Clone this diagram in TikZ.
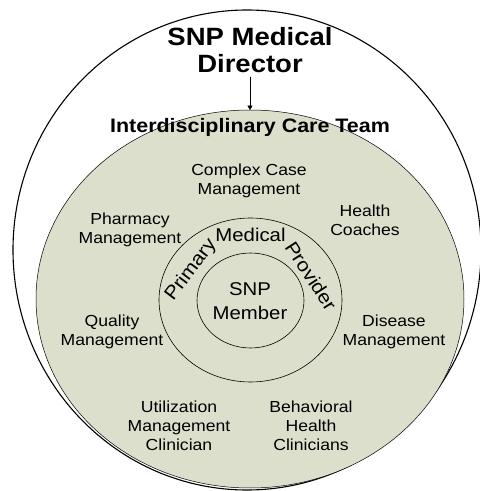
\documentclass[tikz,border=0pt]{standalone}
\usepackage{fontspec}
\setmainfont{Liberation Sans}[FakeStretch=1.1]
\usepackage{tikz}
\usetikzlibrary{calc, arrows, positioning, shapes, arrows.meta}
\definecolor{equipo}{RGB}{221,223,205}

\begin{document}
\begin{tikzpicture}[x=1pt, y=1pt,
	rol/.style={align=center, font={\fontsize{16}{19}\selectfont}},
	miembro/.style={align=center, inner sep=1pt, font={\fontsize{18.5}{24}\selectfont}}]
	\useasboundingbox (0,0) rectangle (480,491);
	
	%Circulos
	\draw[line width=1.1pt] (247,241) ellipse (234 and 240);
	\draw[fill=equipo, line width=0.5pt] (250,192) ellipse (214 and 189);
	\draw[line width=0.6pt] (250.5,191) ellipse (91.5 and 82);
	\draw[line width=0.6pt] (250.5,190.5) ellipse (53.5 and 47.5);
	
	%Director y equipo
	\node[font={\fontsize{25}{27}\selectfont\bfseries}, align=center] (dir) at (250,440.5) {SNP Medical\\Director};
	\coordinate (tope) at (250,381);
	\draw[arrows={-Triangle[angle=60:5pt,black,fill=black]}] (dir.south) -- (tope);
	\node[font={\fontsize{19.5}{22}\selectfont\bfseries}, anchor=base] (icc) at (250,358) {Interdisciplinary Care Team};
	
	%Roles
	\node[rol] (ccm) at (249,310.6) {Complex Case\\Management};
	\node[rol] (pha) at (130,260.9) {Pharmacy\\Management};
	\node[rol] (hc) at (365,271) {Health\\Coaches};
	\node[rol] (qm) at (112,159.1) {Quality\\Management};
	\node[rol] (dm) at (394,159.1) {Disease\\Management};
	\node[rol] (um) at (179,65) {Utilization\\Management\\Clinician};
	\node[rol] (bh) at (311,65) {Behavioral\\Health\\Clinicians};
	
	%Proveedor y miembro
	\node[miembro, anchor=base] (med) at (250.5,249) {Medical};
	\node[miembro, inner sep=0pt, rotate=53, font={\fontsize{19}{24}\selectfont}] (pri) at (191,221) {Primary};
	\node[miembro, inner sep=0pt, rotate=-57, font={\fontsize{19}{24}\selectfont}] (pro) at (311,215) {Provider};
	\node[miembro] (snp) at (250,190.3) {SNP\\Member};
\end{tikzpicture}
\end{document}
